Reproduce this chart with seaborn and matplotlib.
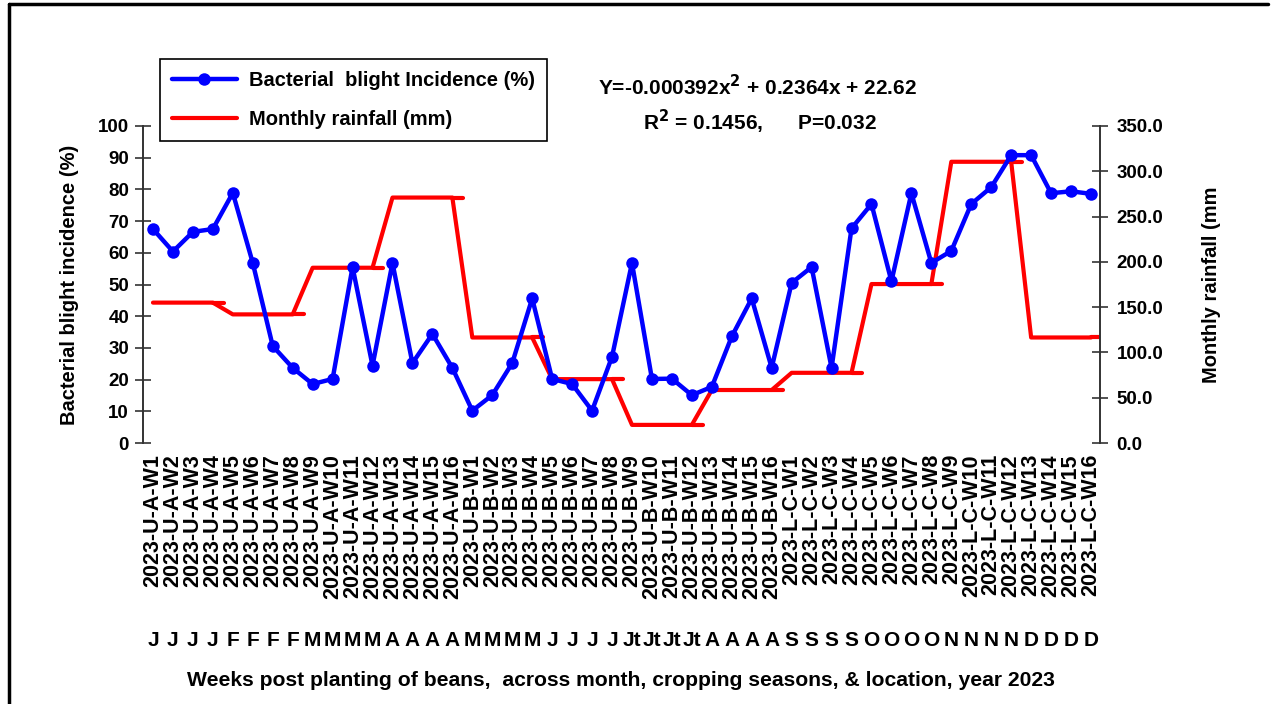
import matplotlib
matplotlib.use("Agg")
import matplotlib.pyplot as plt
import matplotlib.transforms as mtransforms
from matplotlib.lines import Line2D
import seaborn as sns
import pandas as pd
import numpy as np

# ---------------- data ----------------
week_labels = ([f"2023-U-A-W{i}" for i in range(1, 17)] +
               [f"2023-U-B-W{i}" for i in range(1, 17)] +
               [f"2023-L-C-W{i}" for i in range(1, 17)])
month_labels = (["J"] * 4 + ["F"] * 4 + ["M"] * 4 + ["A"] * 4 + ["M"] * 4 + ["J"] * 4 +
                ["Jt"] * 4 + ["A"] * 4 + ["S"] * 4 + ["O"] * 4 + ["N"] * 4 + ["D"] * 4)
incidence = [67.5, 60.4, 66.6, 67.5, 78.9, 56.8, 30.6, 23.7, 18.6, 20.2, 55.5, 24.4,
             56.8, 25.2, 34.4, 23.7, 10.2, 15.1, 25.2, 45.6, 20.2, 18.6, 10.2, 27.2,
             56.8, 20.2, 20.3, 15.1, 17.7, 33.6, 45.6, 23.7, 50.5, 55.5, 23.7, 67.7,
             75.4, 51.0, 78.8, 56.8, 60.6, 75.4, 80.7, 90.8, 90.8, 78.8, 79.4, 78.6]
monthly_rain = [155, 142, 193.5, 271, 116.5, 70.5, 20, 58.5, 77.5, 175.5, 310.5, 116.5]
weeks_per_month = 4

# ---------------- frame ----------------
week_idx = list(range(1, len(week_labels) + 1))
rain_weekly = [r for r in monthly_rain for _ in range(weeks_per_month)]
df = pd.DataFrame({"week": week_idx, "incidence": incidence, "rain": rain_weekly})

sns.set_theme(style="white")
plt.rcParams["font.family"] = ["Liberation Sans", "DejaVu Sans"]
plt.rcParams["font.weight"] = "bold"
for k in ("text.color", "axes.labelcolor", "xtick.color", "ytick.color"):
    plt.rcParams[k] = "black"

fig = plt.figure(figsize=(12.75, 7.04), dpi=100)
ax = fig.add_axes([143 / 1275, 1 - 443 / 704, (1100 - 143) / 1275, (443 - 126) / 704])
ax2 = ax.twinx()

sns.lineplot(data=df, x="week", y="incidence", ax=ax, color="#0000FF", lw=3.2,
             marker="o", markersize=9, markeredgewidth=0, zorder=5,
             label="Bacterial  blight Incidence (%)", legend=False)
sns.lineplot(data=df, x="week", y="rain", ax=ax2, color="#FF0000", lw=3.0,
             label="Monthly rainfall (mm)", legend=False)
# small overhangs at the end of each monthly plateau
for m, r in enumerate(monthly_rain):
    end = (m + 1) * weeks_per_month
    ax2.plot([end, end + 0.55], [r, r], color="#FF0000", lw=3.0)

ax.set_zorder(ax2.get_zorder() + 1)
ax.patch.set_visible(False)

ax.set_xlim(0.5, 48.45)
ax.set_ylim(0, 100)
ax2.set_ylim(0, 350)
ax.set_yticks(np.arange(0, 101, 10))
ax2.set_yticks(np.arange(0, 351, 50))
ax2.set_yticklabels([f"{v:.1f}" for v in np.arange(0, 351, 50)])

ax.set_xticks(week_idx)
ax.set_xticklabels(week_labels, rotation=90, fontsize=15.5, fontweight="bold")
ax.tick_params(axis="x", length=0, pad=8)
ax.tick_params(axis="y", direction="inout", length=12, width=1.2, colors="#333333",
               labelcolor="black", labelsize=13.5, pad=4, left=True)
ax2.tick_params(axis="y", direction="inout", length=12, width=1.2, colors="#333333",
                labelcolor="black", labelsize=13.5, pad=6, right=True)
for t in ax.get_yticklabels() + ax2.get_yticklabels():
    t.set_fontweight("bold")

for a in (ax, ax2):
    for s in ("top", "bottom"):
        a.spines[s].set_visible(False)
ax.spines["right"].set_visible(False)
ax2.spines["left"].set_visible(False)
ax.spines["left"].set_color("#333333")
ax.spines["left"].set_linewidth(1.4)
ax2.spines["right"].set_color("#333333")
ax2.spines["right"].set_linewidth(1.4)
ax.grid(False)
ax2.grid(False)

ax.set_xlabel("")
ax.set_ylabel("Bacterial blight incidence (%)", fontsize=14.5, fontweight="bold", labelpad=14)
ax2.set_ylabel("Monthly rainfall (mm", fontsize=14.5, fontweight="bold", labelpad=28)

# month letters under the tick labels
trans = mtransforms.blended_transform_factory(ax.transData, fig.transFigure)
for x, m in zip(week_idx, month_labels):
    ax.text(x, 1 - 640 / 704, m, transform=trans, ha="center", va="center",
            fontsize=15, fontweight="bold")

fig.text(621 / 1275, 1 - 680 / 704,
         "Weeks post planting of beans,  across month, cropping seasons, & location, year 2023",
         ha="center", va="center", fontsize=15.2, fontweight="bold")

# equation annotations
fig.text(758 / 1275, 1 - 87 / 704, r"Y=-0.000392x$^{\mathbf{2}}$ + 0.2364x + 22.62",
         ha="center", va="center", fontsize=15, fontweight="bold")
fig.text(760 / 1275, 1 - 122 / 704, r"R$^{\mathbf{2}}$ = 0.1456,      P=0.032",
         ha="center", va="center", fontsize=15, fontweight="bold")

# legend
h1, l1 = ax.get_legend_handles_labels()
h2, l2 = ax2.get_legend_handles_labels()
leg = fig.legend(h1 + h2, l1 + l2, loc="upper left",
                 bbox_to_anchor=(160 / 1275, 1 - 59 / 704), frameon=True, fancybox=False,
                 edgecolor="black", framealpha=1, prop={"size": 14.5, "weight": "bold"},
                 handlelength=3.2, borderpad=0.6, labelspacing=1.0, handletextpad=0.6,
                 borderaxespad=0)
leg.get_frame().set_linewidth(1.2)

# outer border (top and left)
fig.add_artist(Line2D([9 / 1275, 9 / 1275], [0, 1 - 4 / 704], transform=fig.transFigure,
                      color="black", lw=2.5))
fig.add_artist(Line2D([9 / 1275, 1268 / 1275], [1 - 4 / 704, 1 - 4 / 704],
                      transform=fig.transFigure, color="black", lw=2.5))

fig.savefig("out.png", dpi=100)
